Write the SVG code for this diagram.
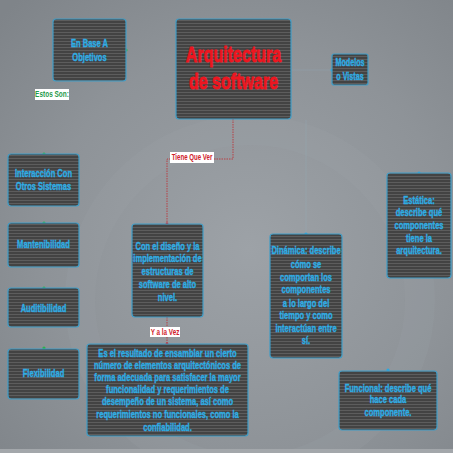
<svg xmlns="http://www.w3.org/2000/svg" width="453" height="453" viewBox="0 0 453 453">
<defs>
<radialGradient id="bg" cx="0.55" cy="0.55" r="0.75">
<stop offset="0" stop-color="#9da2a7"/>
<stop offset="0.6" stop-color="#8e9398"/>
<stop offset="1" stop-color="#7f8489"/>
</radialGradient>
<pattern id="stripes" width="6" height="3" patternUnits="userSpaceOnUse">
<rect width="6" height="3" fill="#434343"/>
<rect y="2" width="6" height="1" fill="#5d5d5d"/>
</pattern>
<style>
.box{fill:url(#stripes);stroke:#3e9cc6;stroke-width:1.2}
.t{font-family:"Liberation Sans",Arial,sans-serif;font-weight:bold;font-size:10.5px;fill:#2eaee6;stroke:#2eaee6;stroke-width:0.35;text-anchor:middle}
.title{font-family:"Liberation Sans",Arial,sans-serif;font-weight:bold;font-size:22px;fill:#ee1620;stroke:#ee1620;stroke-width:0.8;text-anchor:middle}
.lbl{font-family:"Liberation Sans",Arial,sans-serif;font-weight:bold;font-size:9px;text-anchor:middle}
.red{stroke:#c0282e;stroke-width:0.8;stroke-dasharray:1.5 1;fill:none}
.faint{stroke:#8fb6c8;stroke-width:0.7;fill:none;opacity:0.3}
</style>
</defs>
<rect width="453" height="453" fill="url(#bg)"/>
<circle cx="250" cy="300" r="170" fill="none" stroke="#a4a9ae" stroke-width="30" opacity="0.15"/>
<rect y="449" width="453" height="4" fill="#a3a7ab"/>

<g id="connectors">
<path class="red" d="M233,119 V159 H167 V224"/>
<path class="red" d="M167,317 V344"/>
<path class="faint" d="M291,70 H332"/>
<path class="faint" d="M306,120 V234"/>
<circle cx="126" cy="50" r="1.6" fill="#2bb34a"/>
<circle cx="44" cy="154" r="1.6" fill="#2bb34a"/>
<circle cx="44" cy="223" r="1.6" fill="#2bb34a"/>
<circle cx="44" cy="288" r="1.6" fill="#2bb34a"/>
<circle cx="44" cy="348" r="1.6" fill="#2bb34a"/>
<circle cx="167" cy="224" r="1.4" fill="#d0202a"/>
<circle cx="167" cy="344" r="1.4" fill="#d0202a"/>
<circle cx="332" cy="70" r="1.6" fill="#2aa8e0"/>
<circle cx="306" cy="234" r="1.6" fill="#2aa8e0"/>
<circle cx="419" cy="173" r="1.6" fill="#2aa8e0"/>
<circle cx="388" cy="370" r="1.6" fill="#2aa8e0"/>
</g>

<g id="main">
<rect class="box" x="176" y="19" width="115" height="100" rx="3"/>
<g transform="translate(233.5,0) scale(0.73,1)">
<text class="title" x="0" y="62">Arquitectura</text>
<text class="title" x="0" y="89">de software</text>
</g>
</g>

<g id="objetivos">
<rect class="box" x="53" y="19" width="73" height="62" rx="3"/>
<g transform="translate(89.5,0) scale(0.72,1)">
<text class="t" x="0" y="47">En Base A</text>
<text class="t" x="0" y="61">Objetivos</text>
</g>
</g>

<g id="modelos">
<rect class="box" x="332" y="54" width="36" height="31" rx="2"/>
<g transform="translate(350,0) scale(0.72,1)">
<text class="t" x="0" y="66" style="font-size:10px">Modelos</text>
<text class="t" x="0" y="80" style="font-size:10px">o Vistas</text>
</g>
</g>

<g id="estos-son">
<rect x="35" y="89" width="34" height="11" fill="#ffffff"/>
<g transform="translate(52,0) scale(0.72,1)">
<text class="lbl" x="0" y="97.5" fill="#1f9a4a">Estos Son:</text>
</g>
</g>

<g id="tiene-que-ver">
<rect x="170" y="152" width="44" height="11" fill="#ffffff"/>
<g transform="translate(192,0) scale(0.68,1)">
<text class="lbl" x="0" y="160.5" fill="#d0202a">Tiene Que Ver</text>
</g>
</g>

<g id="y-a-la-vez">
<rect x="150" y="327" width="30" height="10" fill="#ffffff"/>
<g transform="translate(165,0) scale(0.7,1)">
<text class="lbl" x="0" y="335.5" fill="#d0202a">Y a la Vez</text>
</g>
</g>

<g id="interaccion">
<rect class="box" x="8" y="154" width="71" height="52" rx="3"/>
<g transform="translate(43.5,0) scale(0.72,1)">
<text class="t" x="0" y="177">Interacción Con</text>
<text class="t" x="0" y="190">Otros Sistemas</text>
</g>
</g>

<g id="mantenibilidad">
<rect class="box" x="8" y="223" width="71" height="44" rx="3"/>
<g transform="translate(43.5,0) scale(0.72,1)">
<text class="t" x="0" y="248">Mantenibilidad</text>
</g>
</g>

<g id="auditibilidad">
<rect class="box" x="8" y="288" width="71" height="39" rx="3"/>
<g transform="translate(43.5,0) scale(0.72,1)">
<text class="t" x="0" y="312">Auditibilidad</text>
</g>
</g>

<g id="flexibilidad">
<rect class="box" x="8" y="349" width="71" height="50" rx="3"/>
<g transform="translate(43.5,0) scale(0.72,1)">
<text class="t" x="0" y="377">Flexibilidad</text>
</g>
</g>

<g id="diseno">
<rect class="box" x="132" y="224" width="71" height="93" rx="3"/>
<g transform="translate(167.5,0) scale(0.72,1)">
<text class="t" x="0" y="250">Con el diseño y la</text>
<text class="t" x="0" y="262.5">implementación de</text>
<text class="t" x="0" y="275">estructuras de</text>
<text class="t" x="0" y="288">software de alto</text>
<text class="t" x="0" y="301">nivel.</text>
</g>
</g>

<g id="resultado">
<rect class="box" x="87" y="344" width="161" height="92" rx="3"/>
<g transform="translate(167.5,0) scale(0.72,1)">
<text class="t" x="0" y="357">Es el resultado de ensamblar un cierto</text>
<text class="t" x="0" y="369">número de elementos arquitectónicos de</text>
<text class="t" x="0" y="381">forma adecuada para satisfacer la mayor</text>
<text class="t" x="0" y="393.5">funcionalidad y requerimientos de</text>
<text class="t" x="0" y="405.5">desempeño de un sistema, así como</text>
<text class="t" x="0" y="418">requerimientos no funcionales, como la</text>
<text class="t" x="0" y="431">confiabilidad.</text>
</g>
</g>

<g id="dinamica">
<rect class="box" x="270" y="234" width="72" height="124" rx="3"/>
<g transform="translate(306,0) scale(0.72,1)">
<text class="t" x="0" y="254">Dinámica: describe</text>
<text class="t" x="0" y="268">cómo se</text>
<text class="t" x="0" y="281">comportan los</text>
<text class="t" x="0" y="293">componentes</text>
<text class="t" x="0" y="307">a lo largo del</text>
<text class="t" x="0" y="319">tiempo y como</text>
<text class="t" x="0" y="332">interactúan entre</text>
<text class="t" x="0" y="344">sí.</text>
</g>
</g>

<g id="estatica">
<rect class="box" x="387" y="173" width="64" height="105" rx="3"/>
<g transform="translate(419,0) scale(0.72,1)">
<text class="t" x="0" y="204">Estática:</text>
<text class="t" x="0" y="216.5">describe qué</text>
<text class="t" x="0" y="229">componentes</text>
<text class="t" x="0" y="242">tiene la</text>
<text class="t" x="0" y="254">arquitectura.</text>
</g>
</g>

<g id="funcional">
<rect class="box" x="339" y="371" width="98" height="59" rx="3"/>
<g transform="translate(388,0) scale(0.72,1)">
<text class="t" x="0" y="392">Funcional: describe qué</text>
<text class="t" x="0" y="403.5">hace cada</text>
<text class="t" x="0" y="416">componente.</text>
</g>
</g>
</svg>
